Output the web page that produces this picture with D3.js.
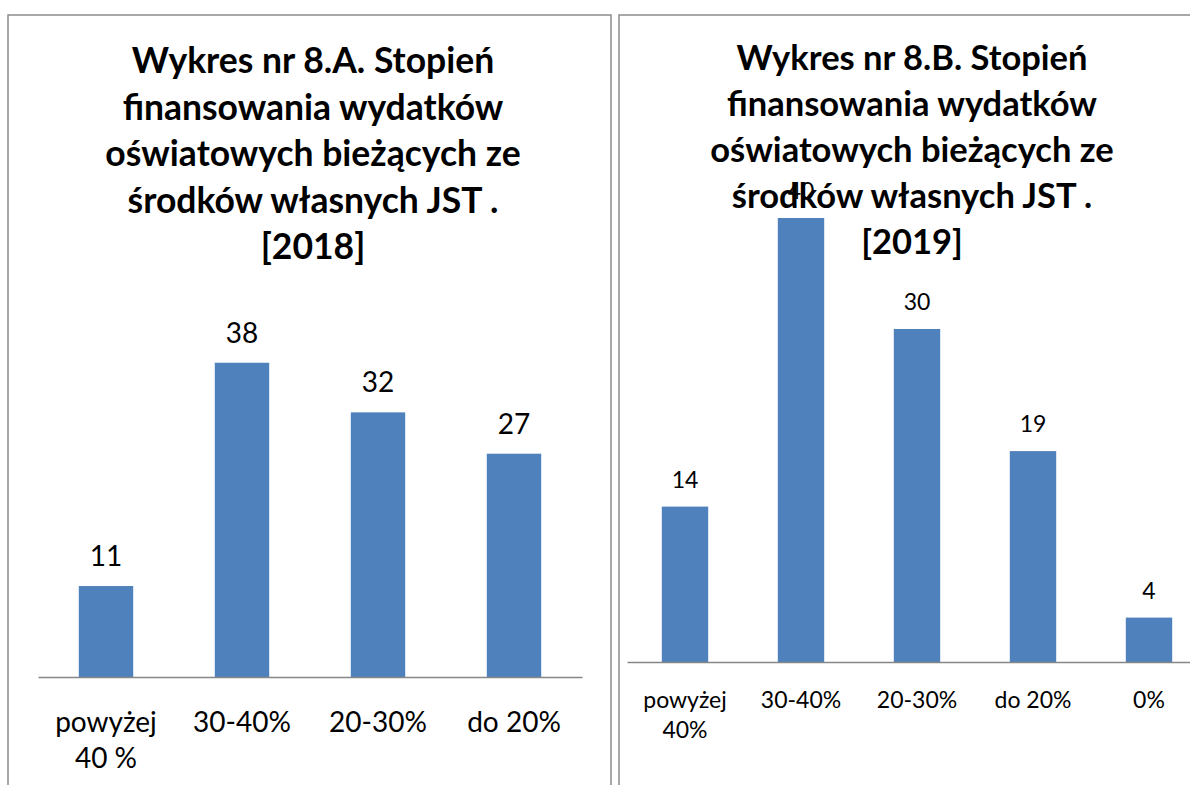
<!DOCTYPE html>
<html>
<head>
<meta charset="utf-8">
<script src="https://cdn.jsdelivr.net/npm/d3@7"></script>
<style>
  body { margin: 0; background: #fff; }
  text { font-family: Lato, "Open Sans", sans-serif; fill: #000; }
</style>
</head>
<body>
<svg id="chart" width="1190" height="785"></svg>
<script>
// chart A (2018)
var titleA = ["Wykres nr 8.A. Stopień", "finansowania wydatków", "oświatowych bieżących ze", "środków własnych JST .", "[2018]"];
var categoriesA = ["powyżej\n40 %", "30-40%", "20-30%", "do 20%"];
var valuesA = [11, 38, 32, 27];

// chart B (2019)
var titleB = ["Wykres nr 8.B. Stopień", "finansowania wydatków", "oświatowych bieżących ze", "środków własnych JST .", "[2019]"];
var categoriesB = ["powyżej\n40%", "30-40%", "20-30%", "do 20%", "0%"];
var valuesB = [14, 40, 30, 19, 4];

var svg = d3.select("#chart");

// panel frames
svg.append("path")
  .attr("d", "M8,800V15H611V800")
  .attr("fill", "none").attr("stroke", "#8c8c8c").attr("stroke-width", 1.5);
svg.append("path")
  .attr("d", "M619,800V15H1200")
  .attr("fill", "none").attr("stroke", "#8c8c8c").attr("stroke-width", 1.5);

function drawPanel(p) {
  var g = svg.append("g");

  var x = d3.scaleBand()
    .domain(p.categories)
    .range(p.xRange)
    .paddingInner(0.6)
    .paddingOuter(0.3);

  var y = d3.scaleLinear()
    .domain([0, 40])
    .range([p.base, p.base - 40 * p.unit]);

  // title
  g.append("text")
    .attr("text-anchor", "middle")
    .style("font-weight", "bold")
    .style("font-size", p.titleSize + "px")
    .selectAll("tspan")
    .data(p.title)
    .join("tspan")
    .attr("x", p.titleX)
    .attr("y", function(d, i) { return p.titleY + i * p.titleLh; })
    .text(function(d) { return d; });

  // bars
  g.selectAll("rect.bar")
    .data(p.values)
    .join("rect")
    .attr("class", "bar")
    .attr("x", function(d, i) { return x(p.categories[i]); })
    .attr("width", x.bandwidth())
    .attr("y", function(d) { return y(d); })
    .attr("height", function(d) { return y(0) - y(d); })
    .attr("fill", "#4f81bd");

  // value labels
  g.selectAll("text.val")
    .data(p.values)
    .join("text")
    .attr("class", "val")
    .attr("text-anchor", "middle")
    .style("font-size", p.fontSize + "px")
    .attr("x", function(d, i) { return x(p.categories[i]) + x.bandwidth() / 2; })
    .attr("y", function(d) { return y(d) - p.labelGap; })
    .text(function(d) { return d; });

  // category axis
  var ax = g.append("g")
    .attr("transform", "translate(0," + p.base + ")")
    .call(d3.axisBottom(x).tickSize(0).tickSizeOuter(0));

  ax.select(".domain").attr("stroke", "#868686").attr("stroke-width", 1.5);
  ax.selectAll(".tick text")
    .style("font-size", p.fontSize + "px")
    .attr("fill", "#000")
    .each(function(d) {
      var t = d3.select(this).text(null).attr("y", null).attr("dy", null);
      d.split("\n").forEach(function(line, i) {
        t.append("tspan")
          .attr("x", 0)
          .attr("y", p.catY + i * p.catLh)
          .text(line);
      });
    });
  ax.attr("font-family", null).attr("font-size", null);
}

drawPanel({
  title: titleA, categories: categoriesA, values: valuesA,
  xRange: [38, 582], base: 677, unit: 8.27,
  titleX: 313, titleY: 73, titleLh: 46.5, titleSize: 35.5,
  fontSize: 28, labelGap: 20, catY: 55, catLh: 36
});

drawPanel({
  title: titleB, categories: categoriesB, values: valuesB,
  xRange: [627, 1207], base: 662, unit: 11.1,
  titleX: 912, titleY: 70, titleLh: 46, titleSize: 34.5,
  fontSize: 23, labelGap: 19, catY: 46, catLh: 30
});
</script>
</body>
</html>
